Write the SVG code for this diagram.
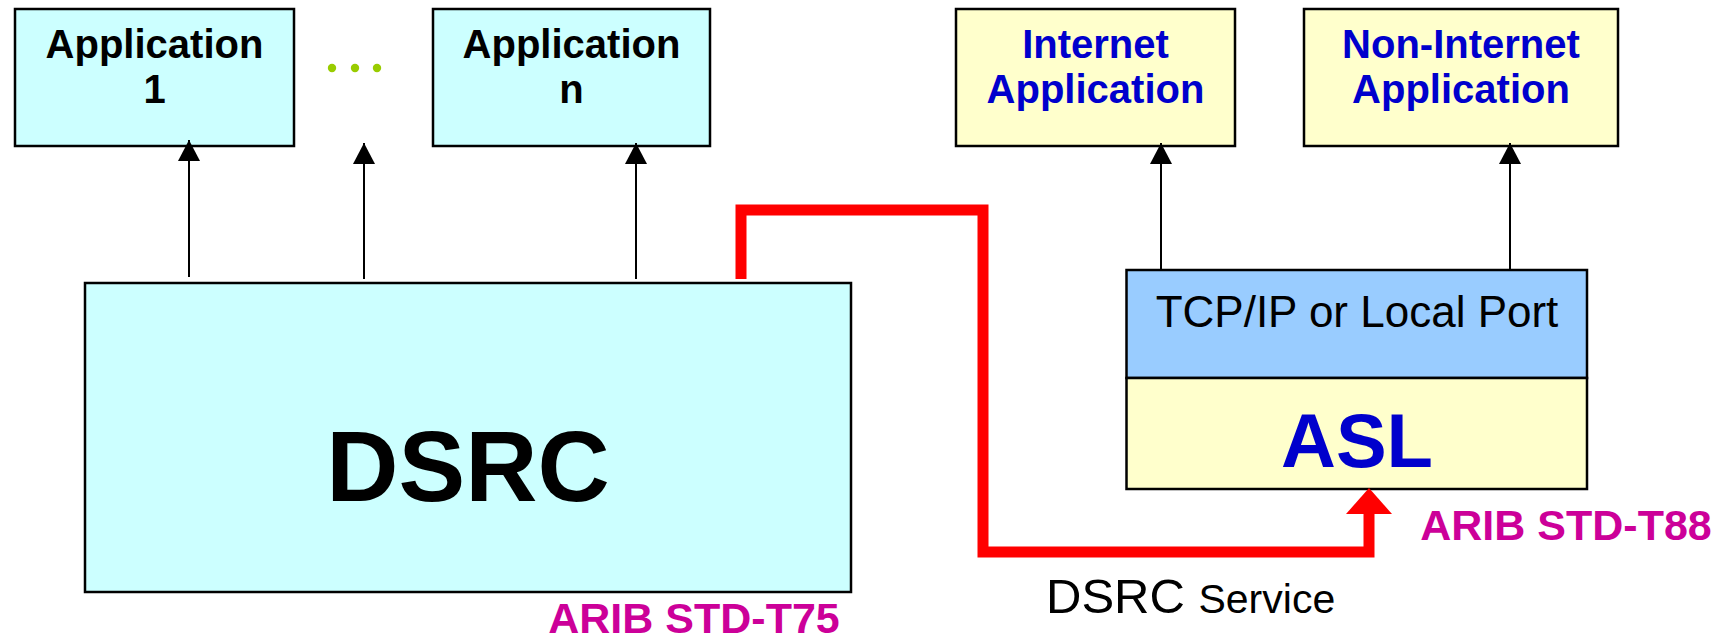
<svg xmlns="http://www.w3.org/2000/svg" width="1729" height="641" viewBox="0 0 1729 641">
<style>
.box{stroke:#000;stroke-width:2.5}
.cyan{fill:#ccffff}
.yel{fill:#ffffcc}
.blue{fill:#99ccff}
.bt{font-family:"Liberation Sans",Arial,sans-serif;font-weight:bold;text-anchor:middle}
.rt{font-family:"Liberation Sans",Arial,sans-serif;text-anchor:middle}
.conn{stroke:#000;stroke-width:2;fill:none;marker-end:url(#ah)}
.mag{fill:#cc0099;font-size:43px}
</style>
<defs>
<marker id="ah" markerUnits="userSpaceOnUse" viewBox="0 0 21 22" markerWidth="21" markerHeight="22" refX="21" refY="11" orient="auto">
<path d="M0,0 L21,11 L0,22 Z" fill="#000"/>
</marker>
</defs>
<rect width="1729" height="641" fill="#fff"/>
<g id="app1">
<rect class="box cyan" x="15" y="9" width="279" height="137"/>
<text class="bt" x="154.5" y="58" font-size="40">Application</text>
<text class="bt" x="154.5" y="103" font-size="40">1</text>
</g>
<g id="dots" fill="#99cc00">
<circle cx="332" cy="68" r="4.2"/>
<circle cx="355" cy="68" r="4.2"/>
<circle cx="377" cy="68" r="4.2"/>
</g>
<g id="appn">
<rect class="box cyan" x="433" y="9" width="277" height="137"/>
<text class="bt" x="571.5" y="58" font-size="40">Application</text>
<text class="bt" x="571.5" y="103" font-size="40">n</text>
</g>
<g id="inet">
<rect class="box yel" x="956" y="9" width="279" height="137"/>
<text class="bt" x="1095.5" y="58" font-size="40" fill="#0000cc">Internet</text>
<text class="bt" x="1095.5" y="103" font-size="40" fill="#0000cc">Application</text>
</g>
<g id="noninet">
<rect class="box yel" x="1304" y="9" width="314" height="137"/>
<text class="bt" x="1461" y="58" font-size="40" fill="#0000cc">Non-Internet</text>
<text class="bt" x="1461" y="103" font-size="40" fill="#0000cc">Application</text>
</g>
<g id="dsrc">
<rect class="box cyan" x="85" y="283" width="766" height="309"/>
<text class="bt" x="468" y="501" font-size="100">DSRC</text>
<text class="bt mag" x="694" y="633">ARIB STD-T75</text>
</g>
<g id="stack">
<rect class="box blue" x="1126.5" y="270" width="460.5" height="108"/>
<text class="rt" x="1357" y="327" font-size="44">TCP/IP or Local Port</text>
<rect class="box yel" x="1126.5" y="378" width="460.5" height="111"/>
<text class="bt" x="1357" y="467" font-size="76" fill="#0000cc">ASL</text>
<text class="bt mag" x="1566" y="540">ARIB STD-T88</text>
</g>
<g id="connectors">
<line class="conn" x1="189" y1="277" x2="189" y2="140"/>
<line class="conn" x1="364" y1="279" x2="364" y2="143"/>
<line class="conn" x1="636" y1="279" x2="636" y2="143"/>
<line class="conn" x1="1161" y1="270" x2="1161" y2="143"/>
<line class="conn" x1="1510" y1="270" x2="1510" y2="143"/>
<path d="M741,279 V210 H983 V552 H1369 V512" fill="none" stroke="#ff0000" stroke-width="11"/>
<path d="M1369,488 L1392,514 L1346,514 Z" fill="#ff0000"/>
</g>
<text class="rt" x="1046" y="613" font-size="49" style="text-anchor:start">DSRC <tspan font-size="41">Service</tspan></text>
</svg>
